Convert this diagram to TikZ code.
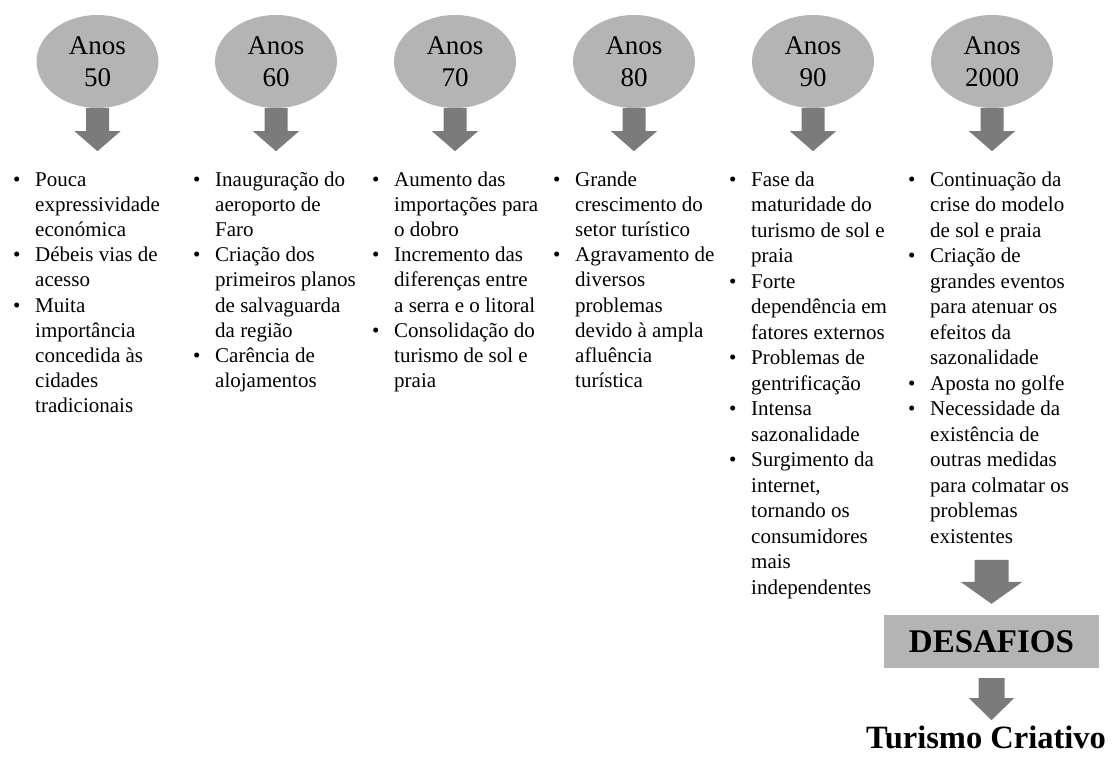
\documentclass[tikz,border=0pt]{standalone}
\usepackage{fontspec}
\setmainfont{Liberation Serif}
\usetikzlibrary{shapes.geometric}

\definecolor{erafill}{HTML}{B4B4B4}
\definecolor{arrowfill}{HTML}{7B7B7B}

% one bullet item: bullet hangs in the left margin of the column
\newcommand\itm{\par\noindent\llap{\makebox[22pt][l]{\textbullet}}}

\tikzset{
  era/.style={ellipse, fill=erafill, inner sep=0pt, minimum width=122pt,
    minimum height=93pt, align=center,
    font=\fontsize{27}{32}\selectfont},
  col/.style={anchor=base west, inner sep=0pt},
  blk/.style={fill=arrowfill, draw=none},
  boxed/.style={rectangle, fill=erafill, minimum width=215pt, minimum height=53pt,
    inner sep=0pt, font=\fontsize{33}{38}\selectfont\bfseries},
  final/.style={anchor=base, inner sep=0pt, font=\fontsize{32.5}{38}\selectfont\bfseries}
}

% a column of bullet items; #1 is the line spacing
\newcommand\colbox[2]{\parbox[t]{170pt}{\fontsize{21}{#1}\selectfont
  \setlength\parindent{0pt}\raggedright #2}}

\begin{document}
\begin{tikzpicture}[x=1pt,y=1pt]
\useasboundingbox (0,0) rectangle (1114,-756);

% decades
\node[era] (e1) at (97.5,-61.5) {Anos\\50};
\node[era] (e2) at (276,-61.5) {Anos\\60};
\node[era] (e3) at (455,-61.5) {Anos\\70};
\node[era] (e4) at (634,-61.5) {Anos\\80};
\node[era] (e5) at (813,-61.5) {Anos\\90};
\node[era] (e6) at (992,-61.5) {Anos\\2000};

% block arrows under each decade
\foreach \n in {e1,e2,e3,e4,e5,e6}{
  \fill[blk] (\n.south) ++(-11.5,0) -- ++(0,-23) -- ++(-11.5,0) -- ++(23,-20)
    -- ++(23,20) -- ++(-11.5,0) -- ++(0,23) -- cycle;
}

% bullet lists
\node[col] (c1) at (35,-186) {\colbox{25.2pt}{%
\itm Pouca\\expressividade\\económica
\itm Débeis vias de\\acesso
\itm Muita\\importância\\concedida às\\cidades\\tradicionais}};

\node[col] (c2) at (215,-186) {\colbox{25.2pt}{%
\itm Inauguração do\\aeroporto de\\Faro
\itm Criação dos\\primeiros planos\\de salvaguarda\\da região
\itm Carência de\\alojamentos}};

\node[col] (c3) at (394,-186) {\colbox{25.2pt}{%
\itm Aumento das\\importações para\\o dobro
\itm Incremento das\\diferenças entre\\a serra e o litoral
\itm Consolidação do\\turismo de sol e\\praia}};

\node[col] (c4) at (575,-186) {\colbox{25.2pt}{%
\itm Grande\\crescimento do\\setor turístico
\itm Agravamento de\\diversos\\problemas\\devido à ampla\\afluência\\turística}};

\node[col] (c5) at (751,-186) {\colbox{25.5pt}{%
\itm Fase da\\maturidade do\\turismo de sol e\\praia
\itm Forte\\dependência em\\fatores externos
\itm Problemas de\\gentrificação
\itm Intensa\\sazonalidade
\itm Surgimento da\\internet,\\tornando os\\consumidores\\mais\\independentes}};

\node[col] (c6) at (930,-186) {\colbox{25.5pt}{%
\itm Continuação da\\crise do modelo\\de sol e praia
\itm Criação de\\grandes eventos\\para atenuar os\\efeitos da\\sazonalidade
\itm Aposta no golfe
\itm Necessidade da\\existência de\\outras medidas\\para colmatar os\\problemas\\existentes}};

% challenges and outcome
\node[boxed] (d) at (991.5,-641.5) {DESAFIOS};
\node[final] (t) at (986,-748) {Turismo Criativo};

\fill[blk] (d.north) ++(0,11) -- ++(-31,22) -- ++(14,0) -- ++(0,22) -- ++(34,0)
  -- ++(0,-22) -- ++(14,0) -- cycle;
\fill[blk] (d.south) ++(-13,-10) -- ++(0,-20) -- ++(-9.5,0) -- ++(22.5,-22)
  -- ++(22.5,22) -- ++(-9.5,0) -- ++(0,20) -- cycle;

\end{tikzpicture}
\end{document}
